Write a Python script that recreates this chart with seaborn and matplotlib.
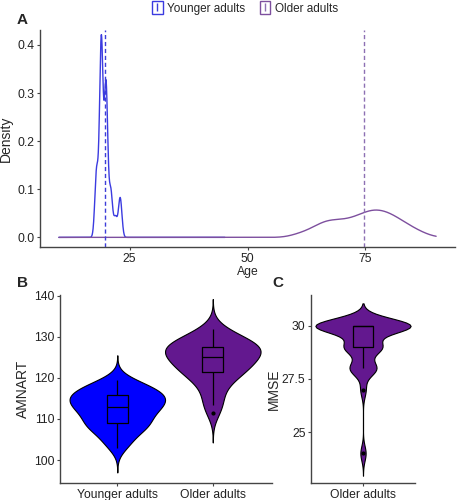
import numpy as np
import pandas as pd
import matplotlib
matplotlib.use('Agg')
import matplotlib.pyplot as plt
import seaborn as sns
from matplotlib.patches import Patch
from matplotlib.lines import Line2D

sns.set_style('ticks')
plt.rcParams['font.family'] = ['Liberation Sans', 'DejaVu Sans']

# ---- data ----
groups = ['Younger adults', 'Older adults']
colors_line = {'Younger adults': '#3b3be0', 'Older adults': '#7d4f9e'}
colors_mean = {'Younger adults': '#3d3dd8', 'Older adults': '#8d70b3'}
colors_fill = {'Younger adults': '#0000ff', 'Older adults': '#63188f'}

# ages (value, count)
young_age = [18, 19, 20, 21, 22, 23]
young_n = [10, 30, 23, 7, 3, 6]
old_age = [60, 61, 62, 63, 64, 65, 66, 67, 68, 69, 70, 71, 72, 73, 74, 75,
           76, 77, 78, 79, 80, 81, 82, 83, 84, 85, 86, 87, 88]
old_n = [1, 1, 1, 2, 2, 3, 4, 4, 4, 4, 4, 4, 4, 5, 5, 6, 6, 7, 6, 6, 6, 5,
         4, 4, 3, 2, 2, 1, 1]

# AMNART scores
amnart_young = [103, 104, 105, 106, 107, 107.5, 108, 108.5, 108.5, 109, 109.5,
                110, 110.5, 111, 111.5, 112, 112.5, 112.5, 113, 113, 113.5,
                114, 114, 114.5, 115, 115, 115.5, 115.5, 116, 116, 116.5, 117,
                117, 117.5, 118, 118.5, 119, 119.5]
amnart_old = [111.5, 113.5, 115, 117, 118.5, 119.5, 120.5, 121, 121.5, 122,
              122.5, 123, 123.5, 124, 124.5, 125, 125, 125.5, 126, 126.5, 127,
              127, 127.5, 127.5, 128, 128, 128.5, 129, 129.5, 130, 131, 132]

# MMSE older adults (value, count)
mmse_val = [24, 27, 28, 29, 30]
mmse_n = [1, 1, 5, 7, 18]

ages = {'Younger adults': np.repeat(young_age, young_n).astype(float),
        'Older adults': np.repeat(old_age, old_n).astype(float)}

W, H = 458, 500
fig = plt.figure(figsize=(W / 100, H / 100), dpi=100)


def box(l, t, r, b):
    return [l / W, 1 - b / H, (r - l) / W, (b - t) / H]


def style(ax):
    sns.despine(ax=ax)
    for s in ['left', 'bottom']:
        ax.spines[s].set_color('#444444')
        ax.spines[s].set_linewidth(1.0)
    ax.tick_params(length=2.5, width=0.8, color='#444444', labelsize=8.7,
                   labelcolor='#222222', pad=1.5)


# ---- panel A: density of age ----
axA = fig.add_axes(box(40, 30, 455, 247))
bw_target = {'Younger adults': 0.37, 'Older adults': 1.9}  # kernel sd in years
for g in groups:
    x = ages[g]
    scott = np.std(x, ddof=1) * len(x) ** (-0.2)
    sns.kdeplot(x=x, ax=axA, color=colors_line[g], linewidth=1.0,
                bw_adjust=bw_target[g] / scott, cut=60, clip=(10, 90),
                gridsize=1500)
for g in groups:
    axA.axvline(np.mean(ages[g]), color=colors_mean[g], linestyle=(0, (3, 2)),
                linewidth=1.0)
axA.set_xlim(6, 94)
axA.set_ylim(-0.02, 0.431)
axA.set_xticks([25, 50, 75])
axA.set_yticks([0.0, 0.1, 0.2, 0.3, 0.4])
axA.set_yticklabels(['0.0', '0.1', '0.2', '0.3', '0.4'])
axA.set_xlabel('Age', fontsize=8.7, labelpad=1)
axA.set_ylabel('Density', fontsize=10, labelpad=3)
style(axA)

handles = [(Patch(facecolor='white', edgecolor=colors_line[g], linewidth=1.0),
            Line2D([], [], color=colors_mean[g], linestyle='none',
                   marker='|', markersize=6))
           for g in groups]
fig.legend(handles, groups, loc='center', bbox_to_anchor=(245 / W, 1 - 8 / H),
           ncol=2, frameon=False, fontsize=8.5, handlelength=0.9,
           handleheight=1.3, handletextpad=0.4, columnspacing=1.2)

# ---- panel B: AMNART violins ----
df_b = pd.DataFrame({
    'group': ['Younger adults'] * len(amnart_young) + ['Older adults'] * len(amnart_old),
    'AMNART': amnart_young + amnart_old})
axB = fig.add_axes(box(60, 295, 272, 483))
sns.violinplot(data=df_b, x='group', y='AMNART', hue='group', order=groups,
               palette=colors_fill, legend=False, inner=None, cut=3,
               width=1.0, linewidth=0.8, linecolor='black', saturation=1,
               density_norm='area', bw_adjust=0.95, ax=axB)
sns.boxplot(data=df_b, x='group', y='AMNART', order=groups, fill=False,
            color='black', width=0.22, linewidth=0.9, showcaps=False,
            flierprops=dict(marker='o', markersize=2, markerfacecolor='black',
                            markeredgecolor='black'), ax=axB)
axB.set_xlim(-0.6, 1.62)
axB.set_ylim(94.4, 140.2)
axB.set_yticks([100, 110, 120, 130, 140])
axB.set_xlabel('')
axB.set_ylabel('AMNART', fontsize=10, labelpad=3)
style(axB)

# ---- panel C: MMSE violin ----
df_c = pd.DataFrame({'group': 'Older adults',
                     'MMSE': np.repeat(mmse_val, mmse_n).astype(float)})
axC = fig.add_axes(box(311, 295, 415, 483))
sns.violinplot(data=df_c, x='group', y='MMSE', color=colors_fill['Older adults'],
               inner=None, cut=3, bw_adjust=0.55, width=1.1, linewidth=0.8,
               linecolor='black', saturation=1, ax=axC)
sns.boxplot(data=df_c, x='group', y='MMSE', fill=False, color='black',
            width=0.22, linewidth=0.9, showcaps=False,
            flierprops=dict(marker='o', markersize=2, markerfacecolor='black',
                            markeredgecolor='black'), ax=axC)
axC.set_xlim(-0.6, 0.6)
axC.set_ylim(22.6, 31.45)
axC.set_yticks([25, 27.5, 30])
axC.set_yticklabels(['25', '27.5', '30'])
axC.set_xlabel('')
axC.set_ylabel('MMSE', fontsize=10, labelpad=1)
style(axC)

# panel letters
for lab, x, y in [('A', 17, 20), ('B', 17, 283), ('C', 272, 283)]:
    fig.text(x / W, 1 - y / H, lab, fontsize=11, fontweight='bold',
             ha='left', va='center')

fig.savefig('out.png', dpi=100)
